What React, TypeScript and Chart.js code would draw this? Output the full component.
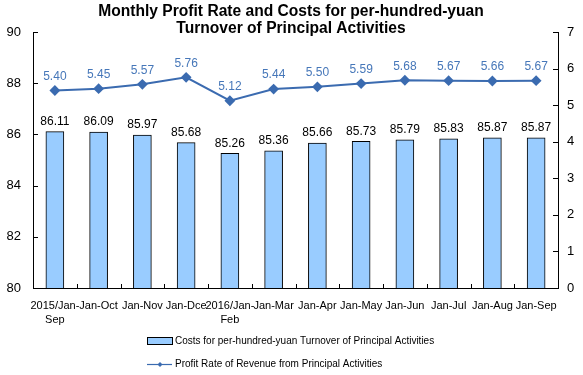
import React, { useEffect, useRef } from 'react';
import { Chart, registerables } from 'chart.js';

Chart.register(...registerables);

const categories: (string | string[])[] = [
  ['2015/Jan-', 'Sep'], 'Jan-Oct', 'Jan-Nov', 'Jan-Dce', ['2016/Jan-', 'Feb'],
  'Jan-Mar', 'Jan-Apr', 'Jan-May', 'Jan-Jun', 'Jan-Jul', 'Jan-Aug', 'Jan-Sep',
];
const costValues = [86.11, 86.09, 85.97, 85.68, 85.26, 85.36, 85.66, 85.73, 85.79, 85.83, 85.87, 85.87];
const profitRates = [5.40, 5.45, 5.57, 5.76, 5.12, 5.44, 5.50, 5.59, 5.68, 5.67, 5.66, 5.67];
const leftTicks = [80, 82, 84, 86, 88, 90];
const rightTicks = [0, 1, 2, 3, 4, 5, 6, 7];
const titleLines = ['Monthly Profit Rate and Costs for per-hundred-yuan', 'Turnover of Principal Activities'];
const costLabel = 'Costs for per-hundred-yuan Turnover of Principal Activities';
const profitLabel = 'Profit Rate of Revenue from Principal Activities';

const FONT = '"Liberation Sans", Arial, sans-serif';
const BAR_COLOR = '#99CCFF';
const LINE_COLOR = '#3B6BB0';
const LINE_LABEL_COLOR = '#4677B9';

const customPlugin = {
  id: 'custom',
  afterDraw(chart: any) {
    const ctx = chart.ctx as CanvasRenderingContext2D;
    const area = chart.chartArea;
    const y = chart.scales.y;
    const y1 = chart.scales.y1;
    const x = chart.scales.x;
    ctx.save();
    // inward ticks
    ctx.strokeStyle = '#000';
    ctx.lineWidth = 1;
    ctx.beginPath();
    leftTicks.forEach((v) => {
      const py = Math.round(y.getPixelForValue(v)) + 0.5;
      ctx.moveTo(area.left, py);
      ctx.lineTo(area.left + 5, py);
    });
    rightTicks.forEach((v) => {
      const py = Math.round(y1.getPixelForValue(v)) + 0.5;
      ctx.moveTo(area.right, py);
      ctx.lineTo(area.right - 5, py);
    });
    for (let i = 1; i < categories.length; i++) {
      const px = Math.round((x.getPixelForValue(i - 1) + x.getPixelForValue(i)) / 2) + 0.5;
      ctx.moveTo(px, area.bottom);
      ctx.lineTo(px, area.bottom - 4);
    }
    ctx.stroke();

    // title
    ctx.fillStyle = '#000';
    ctx.font = `bold 15.6px ${FONT}`;
    ctx.textAlign = 'center';
    ctx.textBaseline = 'middle';
    ctx.fillText(titleLines[0], 291, 12);
    ctx.fillText(titleLines[1], 291, 29);

    // legend
    ctx.fillStyle = BAR_COLOR;
    ctx.fillRect(147.5, 337.5, 25, 7);
    ctx.strokeStyle = '#000';
    ctx.strokeRect(147.5, 337.5, 25, 7);
    ctx.font = `10px ${FONT}`;
    ctx.textAlign = 'left';
    ctx.fillStyle = '#000';
    ctx.fillText(costLabel, 175, 341);
    ctx.strokeStyle = LINE_COLOR;
    ctx.lineWidth = 1.2;
    ctx.beginPath();
    ctx.moveTo(147, 364.5);
    ctx.lineTo(172, 364.5);
    ctx.stroke();
    ctx.fillStyle = LINE_COLOR;
    ctx.beginPath();
    ctx.moveTo(160, 362);
    ctx.lineTo(162.5, 364.5);
    ctx.lineTo(160, 367);
    ctx.lineTo(157.5, 364.5);
    ctx.closePath();
    ctx.fill();
    ctx.fillStyle = '#000';
    ctx.fillText(profitLabel, 175, 364);
    ctx.restore();
  },
  afterDatasetsDraw(chart: any) {
    const ctx = chart.ctx as CanvasRenderingContext2D;
    ctx.save();
    ctx.font = `12px ${FONT}`;
    ctx.textAlign = 'center';
    ctx.textBaseline = 'middle';
    const barMeta = chart.getDatasetMeta(1);
    barMeta.data.forEach((el: any, i: number) => {
      ctx.fillStyle = '#000';
      ctx.fillText(costValues[i].toFixed(2), el.x, el.y - 10);
    });
    const lineMeta = chart.getDatasetMeta(0);
    lineMeta.data.forEach((el: any, i: number) => {
      ctx.fillStyle = LINE_LABEL_COLOR;
      ctx.fillText(profitRates[i].toFixed(2), el.x, el.y - 14);
    });
    ctx.restore();
  },
};

export default function App() {
  const ref = useRef<HTMLCanvasElement>(null);
  useEffect(() => {
    document.body.style.margin = '0';
    const chart = new Chart(ref.current!, {
      type: 'bar',
      data: {
        labels: categories as any,
        datasets: [
          {
            type: 'line',
            label: profitLabel,
            data: profitRates,
            yAxisID: 'y1',
            borderColor: LINE_COLOR,
            backgroundColor: LINE_COLOR,
            borderWidth: 2,
            pointStyle: 'rectRot',
            pointRadius: 4,
            pointHoverRadius: 4,
            tension: 0,
            order: 0,
          } as any,
          {
            type: 'bar',
            label: costLabel,
            data: costValues,
            yAxisID: 'y',
            backgroundColor: BAR_COLOR,
            borderColor: '#000',
            borderWidth: 1,
            barThickness: 18,
            order: 1,
          } as any,
        ],
      },
      options: {
        responsive: false,
        animation: false,
        layout: { padding: { top: 32, left: 0, right: 0, bottom: 0 } },
        plugins: {
          legend: { display: false },
          title: { display: false },
          tooltip: { enabled: false },
        },
        scales: {
          x: {
            offset: true,
            grid: { display: false, drawTicks: false },
            border: { display: true, color: '#000', width: 1 },
            ticks: {
              autoSkip: false,
              maxRotation: 0,
              minRotation: 0,
              padding: 11,
              color: '#000',
              font: { family: FONT, size: 11, lineHeight: 1.25 },
            },
            afterFit(scale: any) { scale.height = 87; },
          },
          y: {
            position: 'left',
            min: 80,
            max: 90,
            grid: { display: false, drawTicks: false },
            border: { display: true, color: '#000', width: 1 },
            ticks: {
              stepSize: 2,
              padding: 12,
              color: '#000',
              font: { family: FONT, size: 13 },
            },
            afterFit(scale: any) { scale.width = 33; },
          },
          y1: {
            position: 'right',
            min: 0,
            max: 7,
            grid: { display: false, drawTicks: false },
            border: { display: true, color: '#000', width: 1 },
            ticks: {
              stepSize: 1,
              padding: 9,
              color: '#000',
              font: { family: FONT, size: 13 },
            },
            afterFit(scale: any) { scale.width = 25; },
          },
        },
      },
      plugins: [customPlugin],
    });
    return () => chart.destroy();
  }, []);
  return <canvas ref={ref} width={583} height={375} />;
}
